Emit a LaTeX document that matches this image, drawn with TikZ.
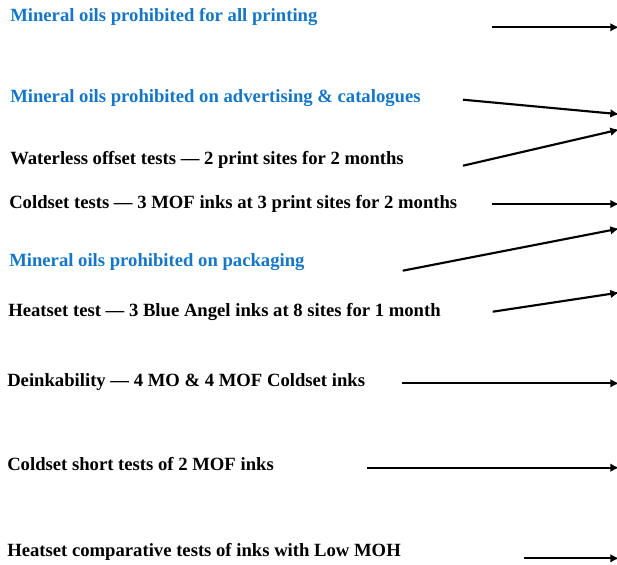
\documentclass[tikz,border=0pt]{standalone}
\usepackage{fontspec}
\setmainfont{Liberation Serif}
\usepackage{tikz}
\usetikzlibrary{arrows.meta}
\definecolor{titleblue}{RGB}{21,118,199}

\begin{document}
\begin{tikzpicture}[x=0.75pt,y=0.75pt,yscale=-1,xscale=1,
  lbl/.style={anchor=west,inner sep=0.75pt,font=\fontsize{14}{16}\selectfont\bfseries},
  head/.style={lbl,text=titleblue},
  conn/.style={line width=1.6pt,-{Latex[length=6.5pt,width=6.5pt]}}]
\useasboundingbox (0,0) rectangle (617,564);

% Text Node
\node [head] (t1) at (9,17) {Mineral oils prohibited for all printing};
% Text Node
\node [head] (t2) at (9,98) {Mineral oils prohibited on advertising \& catalogues};
% Text Node
\node [lbl] (t3) at (9,160) {Waterless offset tests --- 2 print sites for 2 months};
% Text Node
\node [lbl] (t4) at (8,204) {Coldset tests --- 3 MOF inks at 3 print sites for 2 months};
% Text Node
\node [head] (t5) at (8,262) {Mineral oils prohibited on packaging};
% Text Node
\node [lbl] (t6) at (7,312) {Heatset test --- 3 Blue Angel inks at 8 sites for 1 month};
% Text Node
\node [lbl] (t7) at (6,382) {Deinkability --- 4 MO \& 4 MOF Coldset inks};
% Text Node
\node [lbl] (t8) at (6,464) {Coldset short tests of 2 MOF inks};
% Text Node
\node [lbl] (t9) at (6,552) {Heatset comparative tests of inks with Low MOH};

% Connection ends
\coordinate (s1) at (492,27.3);   \coordinate (e1) at (619,27.3);
\coordinate (s2) at (463,99.7);   \coordinate (e2) at (619,114.2);
\coordinate (s3) at (463,165.7);  \coordinate (e3) at (619,129.6);
\coordinate (s4) at (492,204);    \coordinate (e4) at (619,204);
\coordinate (s5) at (402.7,270.7);\coordinate (e5) at (619,228.6);
\coordinate (s6) at (492.7,311.7);\coordinate (e6) at (619,292.6);
\coordinate (s7) at (402,383.3);  \coordinate (e7) at (619,383.3);
\coordinate (s8) at (366.7,467.7);\coordinate (e8) at (619,467.7);
\coordinate (s9) at (524,558.3);  \coordinate (e9) at (619,558.3);

% Connection
\foreach \i in {1,...,9}
  \draw [conn] (s\i) -- (e\i);

\end{tikzpicture}
\end{document}
